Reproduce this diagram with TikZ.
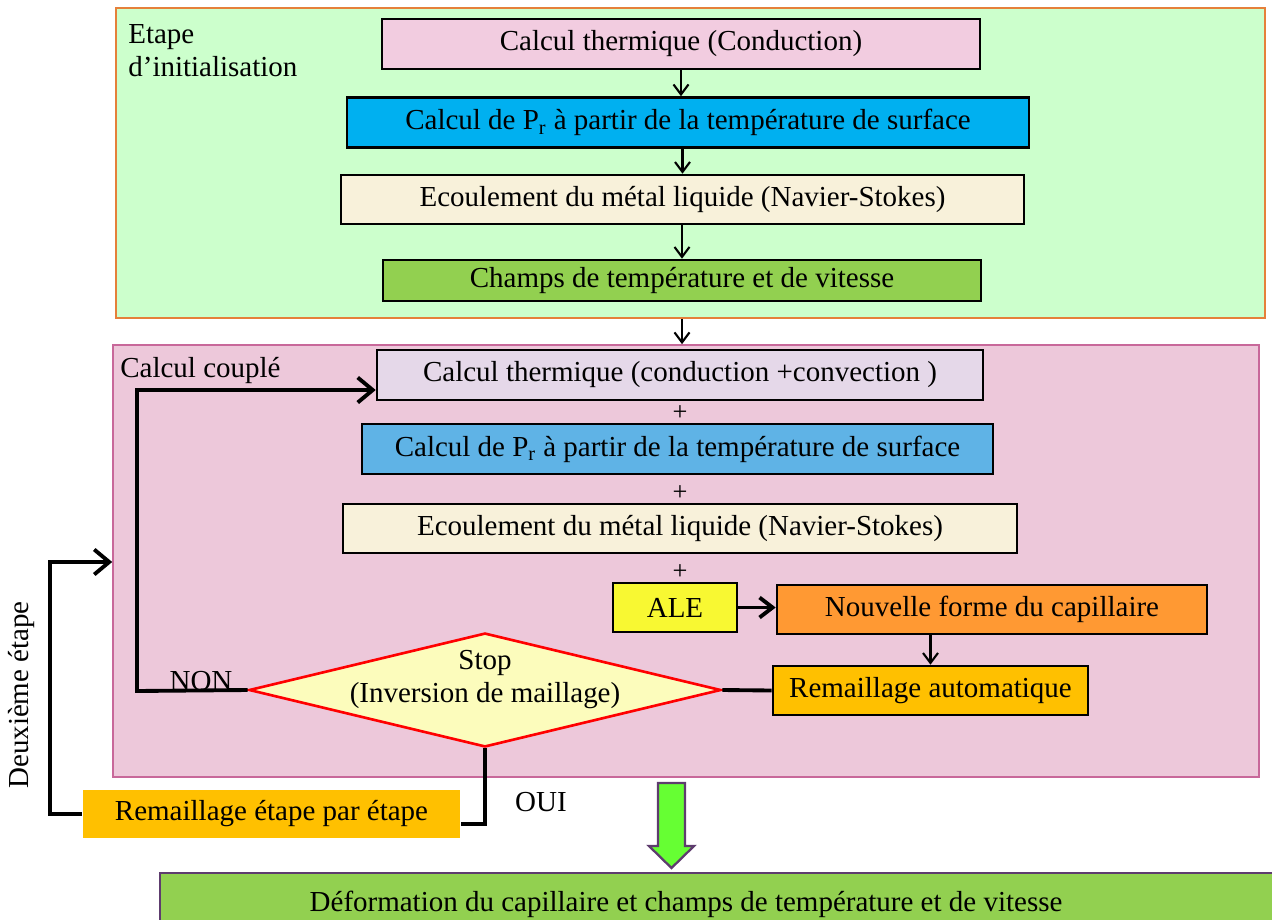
\documentclass[tikz,border=0pt]{standalone}
\usepackage{fontspec}
\setmainfont{Liberation Serif}
\usetikzlibrary{
    positioning,
    arrows.meta,
    shapes.geometric,
    calc,
}
\definecolor{initgreen}{HTML}{CCFFCC}
\definecolor{initorange}{HTML}{E5803A}
\definecolor{coupledpink}{HTML}{EDC8DA}
\definecolor{coupledrim}{HTML}{C8689A}
\definecolor{thermpink}{HTML}{F2CCE0}
\definecolor{thermlilac}{HTML}{E5D8E9}
\definecolor{prcyan}{HTML}{00B0F0}
\definecolor{prblue}{HTML}{5FB3E6}
\definecolor{flowcream}{HTML}{F8F1DA}
\definecolor{fieldgreen}{HTML}{92D050}
\definecolor{aleyellow}{HTML}{F8F832}
\definecolor{shapeorange}{HTML}{FF9933}
\definecolor{meshamber}{HTML}{FFC000}
\definecolor{stopyellow}{HTML}{FCFCBC}
\definecolor{arrowlime}{HTML}{66FF33}
\definecolor{rimpurple}{HTML}{5E3C6E}
\tikzset{
    % Basic node styles
    block/.style={rectangle, draw, line width=1.5pt, minimum height=1cm,
                  inner sep=0pt, font=\fontsize{16.5}{19}\selectfont},
    frame/.style={rectangle, inner sep=0pt, line width=1pt},
    label text/.style={font=\fontsize{16.5}{19}\selectfont, inner sep=0pt},
    plus text/.style={font=\fontsize{15}{17}\selectfont, inner sep=0pt},
    stopbox/.style={diamond, draw=red, line width=1.5pt, fill=stopyellow,
                    aspect=4.14, minimum width=9.44cm, minimum height=2.28cm,
                    inner xsep=-0.8cm, inner ysep=-0.2cm, align=center,
                    text depth=0.55cm, font=\fontsize{16.5}{19}\selectfont},
    % Arrow styles
    thin arrow/.style={-{Straight Barb[length=2mm, width=3mm]}, line width=1.2pt},
    bold arrow/.style={-{Straight Barb[length=2.6mm, width=4mm]}, line width=2.2pt},
    loop line/.style={line width=2.2pt},
    loop arrow/.style={loop line, -{Straight Barb[length=3mm, width=5mm]}},
    bigarrow/.style={draw=rimpurple, line width=1.3pt, fill=arrowlime},
}

\begin{document}
\begin{tikzpicture}[x=0.02cm, y=-0.02cm]
    \useasboundingbox (0,0) rectangle (1272,920);

    % Frames
    \node[frame, draw=initorange, fill=initgreen, minimum width=22.98cm,
          minimum height=6.2cm] (init) at (690.5,163) {};
    \node[frame, draw=coupledrim, fill=coupledpink, minimum width=22.92cm,
          minimum height=8.64cm] (coupled) at (686,561) {};

    % Boxes of the first step
    \node[block, fill=thermpink, minimum width=11.96cm] (therm1) at (681,44)
        {Calcul thermique (Conduction)};
    \node[block, fill=prcyan, minimum width=13.64cm] (pr1) at (688,122.5)
        {Calcul de P\textsubscript{r} à partir de la température de surface};
    \node[block, fill=flowcream, minimum width=13.66cm, minimum height=0.98cm] (flow1) at (682.5,199.5)
        {Ecoulement du métal liquide (Navier-Stokes)};
    \node[block, fill=fieldgreen, minimum width=11.96cm, minimum height=0.82cm] (champs) at (682,280.5)
        {Champs de température et de vitesse};

    % Boxes of the coupled step
    \node[block, fill=thermlilac, minimum width=12.12cm] (therm2) at (680,375)
        {Calcul thermique (conduction +convection )};
    \node[block, fill=prblue, minimum width=12.62cm] (pr2) at (677.5,449)
        {Calcul de P\textsubscript{r} à partir de la température de surface};
    \node[block, fill=flowcream, minimum width=13.48cm, minimum height=0.98cm] (flow2) at (680,528.5)
        {Ecoulement du métal liquide (Navier-Stokes)};
    \node[block, fill=aleyellow, minimum width=2.48cm, minimum height=0.98cm] (ale) at (675,607.5)
        {ALE};
    \node[block, fill=shapeorange, minimum width=8.6cm, minimum height=0.98cm] (shape) at (992,609.5)
        {Nouvelle forme du capillaire};
    \node[block, fill=meshamber, minimum width=6.3cm, minimum height=0.98cm] (remauto) at (930.5,690.5)
        {Remaillage automatique};
    \node[stopbox] (stop) at (485,690) {Stop\\(Inversion de maillage)};

    % Boxes outside
    \node[block, draw=none, fill=meshamber, minimum width=7.54cm, minimum height=0.96cm] (remstep) at (271.5,814)
        {Remaillage étape par étape};
    \node[block, draw=rimpurple, fill=fieldgreen, minimum width=22.8cm, minimum height=1.24cm] (final) at (730,904)
        {Déformation du capillaire et champs de température et de vitesse\hspace*{1.76cm}};

    % Arrows
    \draw[thin arrow] (therm1.south) -- (therm1.south |- pr1.north);
    \draw[thin arrow] (pr1.south -| flow1.north) -- (flow1.north);
    \draw[thin arrow] (flow1.south -| champs.north) -- (champs.north);
    \draw[thin arrow] (champs.south |- init.south) -- (champs.south |- coupled.north);
    \draw[bold arrow] (ale.east) -- (ale.east -| shape.west);
    \draw[thin arrow] (remauto.north |- shape.south) -- (remauto.north);
    \draw[loop line] (stop.east) -- (remauto.west);

    \coordinate (nonturn) at (137,691);
    \coordinate (nontop) at (137,390);
    \draw[loop arrow] (stop.west) -- (nonturn) -- (nontop) -- (nontop -| therm2.west);

    \draw[loop line] (stop.south) |- ($(remstep.east)+(0,10)$);
    \coordinate (backturn) at (50,562);
    \draw[loop arrow] (remstep.west) -| (backturn) -- (backturn -| coupled.west);

    \draw[bigarrow] (658,783) -- (685,783) -- (685,846) -- (694,846)
        -- (671.5,868) -- (649,846) -- (658,846) -- cycle;

    % Labels
    \node[label text, align=left, anchor=north west] (initlabel) at (128,24)
        {Etape\\d’initialisation};
    \node[label text, anchor=base west] (coupledlabel) at (120,377) {Calcul couplé};
    \node[plus text] (plus1) at (680,413) {+};
    \node[plus text] (plus2) at (680,493) {+};
    \node[plus text] (plus3) at (680,572) {+};
    \node[label text, anchor=base] (non) at (201,690) {NON};
    \node[label text, anchor=base] (oui) at (541,811) {OUI};
    \node[label text, rotate=90] (second) at (22,695) {Deuxième étape};
\end{tikzpicture}
\end{document}
